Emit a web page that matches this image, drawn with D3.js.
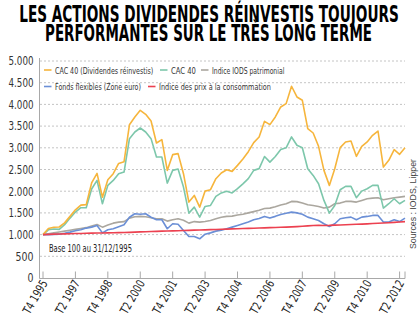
<!DOCTYPE html>
<html>
<head>
<meta charset="utf-8">
<script src="https://cdn.jsdelivr.net/npm/d3@7"></script>
<style>
  body { margin: 0; background: #fff; }
  svg { display: block; }
</style>
</head>
<body>
<div id="chart"></div>
<script>
// Quarterly values, base 1000 at T4 1995 (T4 1995 .. T3 2012)
const quarters = d3.range(68);

const cacDiv = [1000, 1140, 1170, 1175, 1270, 1420, 1570, 1680, 1690, 2190, 2410, 1860, 2265, 2404, 2640, 2680,
  3530, 3710, 3864, 3772, 3618, 3110, 3188, 2480, 2842, 2865, 2403, 1749, 1903, 1633, 2002, 2034,
  2288, 2420, 2495, 2457, 2595, 2740, 2910, 3120, 3250, 3610, 3534, 3710, 3941, 4018, 4418, 4171,
  4095, 3442, 3341, 3034, 2480, 2134, 2518, 3003, 3134, 3157, 2803, 3034, 3134, 3287, 3387, 2556,
  2711, 2957, 2849, 3003];

const cac40 = [1000, 1110, 1130, 1120, 1230, 1380, 1520, 1620, 1620, 2050, 2250, 1711, 2134, 2249, 2403, 2441,
  3211, 3364, 3456, 3364, 3211, 2787, 2787, 2187, 2480, 2510, 2095, 1495, 1633, 1403, 1649, 1672,
  1880, 1960, 2000, 1960, 2060, 2170, 2290, 2480, 2520, 2800, 2670, 2800, 2960, 3000, 3250, 3060,
  3000, 2518, 2364, 2173, 1788, 1495, 1672, 2034, 2111, 2111, 1850, 2002, 2057, 2134, 2134, 1611,
  1711, 1826, 1711, 1788];

const iods = [1000, 1020, 1040, 1060, 1080, 1100, 1120, 1140, 1160, 1200, 1234, 1172, 1220, 1264, 1288, 1300,
  1380, 1410, 1420, 1410, 1390, 1365, 1365, 1311, 1342, 1365, 1330, 1264, 1300, 1288, 1303, 1326,
  1365, 1400, 1420, 1426, 1450, 1470, 1500, 1530, 1560, 1600, 1610, 1640, 1680, 1710, 1765, 1760,
  1726, 1688, 1672, 1649, 1611, 1633, 1711, 1726, 1765, 1765, 1749, 1788, 1826, 1841, 1849, 1803,
  1826, 1849, 1864, 1880];

const fonds = [1000, 1000, 1005, 1010, 1030, 1057, 1090, 1110, 1150, 1172, 1211, 1040, 1111, 1134, 1180, 1227,
  1400, 1480, 1470, 1480, 1400, 1342, 1342, 1134, 1250, 1240, 1096, 957, 957, 904, 1010, 1040,
  1080, 1100, 1135, 1172, 1210, 1250, 1290, 1340, 1370, 1419, 1380, 1420, 1465, 1490, 1518, 1500,
  1470, 1403, 1365, 1326, 1250, 1188, 1250, 1365, 1388, 1403, 1342, 1403, 1419, 1442, 1442, 1288,
  1288, 1342, 1300, 1380];

const cpi = [1000, 1006, 1012, 1015, 1017, 1020, 1024, 1027, 1030, 1033, 1036, 1038, 1040, 1042, 1045, 1048,
  1052, 1057, 1062, 1066, 1070, 1074, 1080, 1083, 1086, 1090, 1094, 1098, 1102, 1107, 1110, 1114,
  1118, 1123, 1127, 1131, 1135, 1139, 1143, 1147, 1151, 1155, 1160, 1164, 1168, 1172, 1178, 1184,
  1192, 1200, 1210, 1214, 1210, 1212, 1218, 1222, 1228, 1234, 1238, 1242, 1248, 1256, 1262, 1268,
  1274, 1282, 1290, 1298];

// Tick labels every 6 quarters
const tickIndex = [0, 6, 12, 18, 24, 30, 36, 42, 48, 54, 60, 66];
const tickLabels = ["T4 1995", "T2 1997", "T4 1998", "T2 2000", "T4 2001", "T2 2003",
  "T4 2004", "T2 2006", "T4 2007", "T2 2009", "T4 2010", "T2 2012"];

const yTicks = d3.range(0, 5001, 500);

const series = [
  { name: "Indice IODS patrimonial", values: iods, color: "#aba79f" },
  { name: "Fonds flexibles (Zone euro)", values: fonds, color: "#6b8fd6" },
  { name: "CAC 40", values: cac40, color: "#7dc7ab" },
  { name: "CAC 40 (Dividendes réinvestis)", values: cacDiv, color: "#f6b53c" },
  { name: "Indice des prix à la consommation", values: cpi, color: "#ec4150" }
];

const width = 420, height = 328;
const narrow = "'DejaVu Sans Condensed', 'Liberation Sans Narrow', sans-serif";

const svg = d3.select("#chart")
  .append("svg")
  .attr("width", width)
  .attr("height", height);

// Squeeze a text horizontally to a given width (the reference uses a very condensed face)
function fitText(parent, str, px, py, w, opts) {
  const t = parent.append("text")
    .attr("text-anchor", opts.anchor || "start")
    .style("font-family", opts.family || narrow)
    .style("font-weight", opts.weight || "normal")
    .style("font-size", opts.size + "px")
    .style("fill", opts.fill || "#333")
    .text(str);
  const natural = t.node().getComputedTextLength();
  t.attr("transform", `translate(${px},${py}) rotate(${opts.rotate || 0}) scale(${w / natural},1)`);
  return t;
}

// Title
fitText(svg, "LES ACTIONS DIVIDENDES RÉINVESTIS TOUJOURS", 209, 21.5, 380,
  { anchor: "middle", weight: "bold", size: 23.5, fill: "#000" });
fitText(svg, "PERFORMANTES SUR LE TRÈS LONG TERME", 208.5, 41, 327,
  { anchor: "middle", weight: "bold", size: 23.5, fill: "#000" });

// Scales
const x = d3.scaleLinear().domain([0, 67]).range([43, 405]);
const y = d3.scaleLinear().domain([0, 5000]).range([278, 61]);

// Gridlines
svg.append("g")
  .selectAll("line")
  .data(yTicks.filter(d => d > 0))
  .enter().append("line")
  .attr("x1", 40).attr("x2", 405)
  .attr("y1", d => y(d)).attr("y2", d => y(d))
  .attr("stroke", "#b5b5b5")
  .attr("stroke-width", 0.8)
  .attr("stroke-dasharray", "2,2");

// Y labels
const yFormat = d => d === 0 ? "0" : d3.format(",")(d).replace(",", ".");
yTicks.forEach(d => {
  fitText(svg, yFormat(d), 33.5, y(d) + 4.3, d === 0 ? 6 : (d < 1000 ? 18 : 25),
    { anchor: "end", size: 12.5, fill: "#333" });
});

// Axis lines
svg.append("line")
  .attr("x1", 39.5).attr("x2", 39.5)
  .attr("y1", 58).attr("y2", 278.5)
  .attr("stroke", "#a8a8a8");
svg.append("line")
  .attr("x1", 39.5).attr("x2", 405)
  .attr("y1", 278.5).attr("y2", 278.5)
  .attr("stroke", "#a8a8a8");

// X ticks (pointing up) + end tick
svg.append("g")
  .selectAll("line")
  .data(tickIndex.concat([67]))
  .enter().append("line")
  .attr("x1", d => x(d)).attr("x2", d => x(d))
  .attr("y1", 271.5).attr("y2", 278.5)
  .attr("stroke", "#a8a8a8");

// X labels, rotated
tickIndex.forEach((d, i) => {
  fitText(svg, tickLabels[i], x(d) + 5, 283, 37,
    { anchor: "end", size: 12, fill: "#222", rotate: -60 });
});

// Lines
const line = d3.line()
  .x((d, i) => x(quarters[i]))
  .y(d => y(d));

svg.append("g")
  .selectAll("path")
  .data(series)
  .enter().append("path")
  .attr("d", d => line(d.values))
  .attr("fill", "none")
  .attr("stroke", d => d.color)
  .attr("stroke-width", 1.6)
  .attr("stroke-linejoin", "round");

// Legend
const legendItems = [
  { s: 3, x: 44, y: 70, w: 98.5 },
  { s: 2, x: 160, y: 70, w: 25 },
  { s: 0, x: 201, y: 70, w: 72.5 },
  { s: 1, x: 44, y: 86.5, w: 86 },
  { s: 4, x: 148, y: 86.5, w: 112 }
];
const legend = svg.append("g");
legendItems.forEach(item => {
  const s = series[item.s];
  legend.append("line")
    .attr("x1", item.x).attr("x2", item.x + 7.5)
    .attr("y1", item.y).attr("y2", item.y)
    .attr("stroke", s.color).attr("stroke-width", 1.6);
  fitText(legend, s.name, item.x + 11, item.y + 3.5, item.w, { size: 9.5, fill: "#333" });
});

// Notes
fitText(svg, "Base 100 au 31/12/1995", 49, 252, 83, { size: 11, fill: "#222" });

fitText(svg, "Sources : IODS, Lipper", 415.5, 249, 90,
  { size: 9.5, fill: "#444", family: "'Liberation Sans', Arial, sans-serif", rotate: -90 });
</script>
</body>
</html>
